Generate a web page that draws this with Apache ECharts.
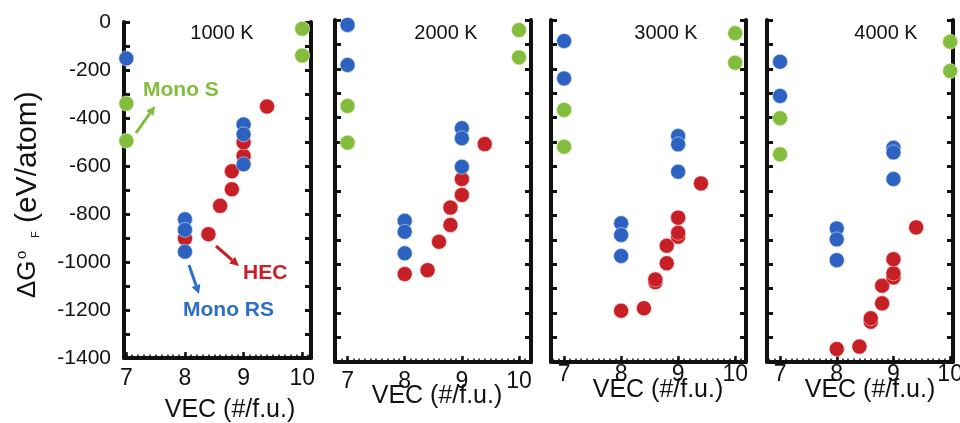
<!DOCTYPE html>
<html>
<head>
<meta charset="utf-8">
<script src="https://cdn.jsdelivr.net/npm/echarts@6/dist/echarts.min.js"></script>
<style>
  html, body { margin: 0; padding: 0; background: #ffffff; }
  #chart { width: 960px; height: 423px; }
</style>
</head>
<body>
<div id="chart"></div>
<script>
// Panel titles (temperature of each panel)
const temperatures = ['1000 K', '2000 K', '3000 K', '4000 K'];

// Tick values
const vecTicks = [7, 8, 9, 10];
const energyLabels = [0, -200, -400, -600, -800, -1000, -1200, -1400];

// [VEC, ΔG°F] pairs for each phase and temperature
const monoS1000 = [[7, -340], [7, -495], [10, -28], [10, -140]];
const monoRS1000 = [[7, -152], [8, -822], [8, -866], [8, -957], [9, -427], [9, -468], [9, -593]];
const hec1000 = [[8, -902], [8.4, -884], [8.6, -766], [8.8, -697], [8.8, -622], [9, -558], [9, -502], [9.4, -352]];

const monoS2000 = [[7, -352], [7, -502], [10, -41], [10, -153]];
const monoRS2000 = [[7, -20], [7, -184], [8, -822], [8, -867], [8, -955], [9, -443], [9, -484], [9, -601]];
const hec2000 = [[8, -1040], [8.4, -1024], [8.6, -908], [8.8, -839], [8.8, -768], [9, -716], [9, -651], [9.4, -508]];

const monoS3000 = [[7, -368], [7, -519], [10, -54], [10, -175]];
const monoRS3000 = [[7, -86], [7, -239], [8, -832], [8, -880], [8, -966], [9, -475], [9, -509], [9, -621]];
const hec3000 = [[8, -1190], [8.4, -1180], [8.6, -1073], [8.6, -1062], [8.8, -996], [8.8, -924], [9, -887], [9, -871], [9, -809], [9.4, -669]];

const monoS4000 = [[7, -402], [7, -550], [10, -89], [10, -209]];
const monoRS4000 = [[7, -171], [7, -311], [8, -853], [8, -898], [8, -983], [9, -523], [9, -542], [9, -651]];
const hec4000 = [[8, -1347], [8.4, -1337], [8.6, -1235], [8.6, -1221], [8.8, -1160], [8.8, -1088], [9, -1054], [9, -1037], [9, -979], [9.4, -849]];

const monoSByPanel = [monoS1000, monoS2000, monoS3000, monoS4000];
const monoRSByPanel = [monoRS1000, monoRS2000, monoRS3000, monoRS4000];
const hecByPanel = [hec1000, hec2000, hec3000, hec4000];

// Colours
const RED = '#c61f26';
const BLUE = '#2d62c0';
const GREEN = '#83bd3d';
const LABEL_BLUE = '#2b6fc6';
const INK = '#111111';
const FONT = '"Liberation Sans", Arial, Helvetica, sans-serif';

// Frame geometry of each panel (pixel box and VEC range shown)
const frames = [
  { left: 124, right: 311, top: 22, bottom: 358, xMin: 6.96, xMax: 10.15, labelMargin: 9, nameX: 230, nameY: 410, titleX: 222 },
  { left: 335, right: 531, top: 20, bottom: 362, xMin: 6.78, xMax: 10.21, labelMargin: 8, nameX: 437, nameY: 396, titleX: 446 },
  { left: 551, right: 746, top: 20, bottom: 362, xMin: 6.77, xMax: 10.19, labelMargin: 1, nameX: 658, nameY: 390, titleX: 666 },
  { left: 767, right: 953, top: 20, bottom: 362, xMin: 6.77, xMax: 10.05, labelMargin: 1, nameX: 870, nameY: 390, titleX: 886 }
];

// fine tick positions every 0.1 along the VEC axis
function minorTicks(lo, hi) {
  const out = [];
  for (let k = Math.ceil(lo * 10); k <= Math.floor(hi * 10); k++) out.push(k / 10);
  return out;
}

const grids = [], xAxes = [], yAxes = [], series = [], graphics = [];

frames.forEach((f, i) => {
  const h = f.bottom - f.top;
  grids.push({ left: f.left, top: f.top, width: f.right - f.left, height: h, containLabel: false, outerBoundsMode: 'none' });

  // main VEC axis: line, labels and integer ticks
  xAxes.push({
    type: 'value', gridIndex: i, position: 'bottom', min: f.xMin, max: f.xMax,
    axisLine: { show: true, onZero: false, lineStyle: { color: INK, width: 4 } },
    axisTick: { show: true, inside: true, length: 6, lineStyle: { color: INK, width: 2.5 }, customValues: vecTicks },
    axisLabel: { show: true, customValues: vecTicks, margin: f.labelMargin, fontSize: 23, color: INK, fontFamily: FONT, hideOverlap: false },
    splitLine: { show: false }
  });
  // fine ticks along the VEC axis (a second axis shifted down onto the bottom edge)
  xAxes.push({
    type: 'value', gridIndex: i, position: 'top', offset: -h, min: f.xMin, max: f.xMax,
    axisLine: { show: false },
    axisTick: { show: true, inside: false, length: 3.5, lineStyle: { color: INK, width: 1.5 }, customValues: minorTicks(f.xMin, f.xMax) },
    axisLabel: { show: false },
    splitLine: { show: false }
  });

  // left energy axis
  yAxes.push({
    type: 'value', gridIndex: i, position: 'left', min: -1400, max: 0, interval: 100,
    axisLine: { show: true, onZero: false, lineStyle: { color: INK, width: 4 } },
    axisTick: { show: true, inside: true, length: 6, lineStyle: { color: INK, width: 3 } },
    axisLabel: { show: i === 0, customValues: energyLabels, formatter: (v) => String(v), margin: 13, fontSize: 21, color: INK, fontFamily: FONT },
    splitLine: { show: false }
  });
  // right mirror axis
  yAxes.push({
    type: 'value', gridIndex: i, position: 'right', min: -1400, max: 0, interval: 100,
    axisLine: { show: true, onZero: false, lineStyle: { color: INK, width: 4 } },
    axisTick: { show: true, inside: true, length: 6, lineStyle: { color: INK, width: 3 } },
    axisLabel: { show: false },
    splitLine: { show: false }
  });

  const base = { type: 'scatter', xAxisIndex: i * 2, yAxisIndex: i * 2, symbol: 'circle', symbolSize: 15, clip: false, silent: true, animation: false };
  series.push(Object.assign({}, base, { name: 'HEC', data: hecByPanel[i], z: 3,
    itemStyle: { color: RED, opacity: 1, borderColor: 'rgba(255,210,210,0.55)', borderWidth: 1 } }));
  series.push(Object.assign({}, base, { name: 'Mono RS', data: monoRSByPanel[i], z: 4,
    itemStyle: { color: BLUE, opacity: 1, borderColor: 'rgba(210,225,255,0.6)', borderWidth: 1 } }));
  series.push(Object.assign({}, base, { name: 'Mono S', data: monoSByPanel[i], z: 5,
    itemStyle: { color: GREEN, opacity: 1, borderColor: 'rgba(235,245,200,0.6)', borderWidth: 1 } }));

  graphics.push({ type: 'text', x: f.titleX, y: 33, z: 10,
    style: { text: temperatures[i], font: '20px ' + FONT, fill: INK, align: 'center', verticalAlign: 'middle' } });
  graphics.push({ type: 'text', x: f.nameX, y: f.nameY, z: 10,
    style: { text: 'VEC (#/f.u.)', font: '25px ' + FONT, fill: INK, align: 'center', verticalAlign: 'middle' } });
});

// Energy axis title, written bottom-to-top
graphics.push({
  type: 'group', x: 28, y: 298, rotation: Math.PI / 2, z: 10,
  children: [
    { type: 'text', x: 0, y: 0, style: { text: 'ΔG', font: '26px ' + FONT, fill: INK, align: 'left', verticalAlign: 'middle' } },
    { type: 'text', x: 39, y: -6, style: { text: 'o', font: '15px ' + FONT, fill: INK, align: 'left', verticalAlign: 'middle' } },
    { type: 'text', x: 60, y: 8, style: { text: 'F', font: '11px ' + FONT, fill: INK, align: 'left', verticalAlign: 'middle' } },
    { type: 'text', x: 75, y: 0, style: { text: '(eV/atom)', font: '30px ' + FONT, fill: INK, align: 'left', verticalAlign: 'middle' } }
  ]
});

// Annotation arrows in the first panel
function arrow(x1, y1, x2, y2, color) {
  const dx = x2 - x1, dy = y2 - y1, len = Math.hypot(dx, dy);
  const ux = dx / len, uy = dy / len, head = 9, half = 4.5;
  const bx = x2 - ux * head, by = y2 - uy * head;
  return [
    { type: 'line', z: 10, shape: { x1: x1, y1: y1, x2: bx, y2: by }, style: { stroke: color, lineWidth: 3 } },
    { type: 'polygon', z: 10, shape: { points: [[x2, y2], [bx - uy * half, by + ux * half], [bx + uy * half, by - ux * half]] }, style: { fill: color } }
  ];
}
graphics.push(...arrow(136, 133, 155, 106, GREEN));
graphics.push(...arrow(216, 246, 239, 266, RED));
graphics.push(...arrow(189, 265, 199, 294, LABEL_BLUE));

graphics.push({ type: 'text', x: 143, y: 90, z: 10, style: { text: 'Mono S', font: 'bold 21px ' + FONT, fill: GREEN, align: 'left', verticalAlign: 'middle' } });
graphics.push({ type: 'text', x: 243, y: 273, z: 10, style: { text: 'HEC', font: 'bold 21px ' + FONT, fill: RED, align: 'left', verticalAlign: 'middle' } });
graphics.push({ type: 'text', x: 183, y: 310, z: 10, style: { text: 'Mono RS', font: 'bold 21px ' + FONT, fill: LABEL_BLUE, align: 'left', verticalAlign: 'middle' } });

const chart = echarts.init(document.getElementById('chart'), null, { renderer: 'canvas' });
chart.setOption({
  animation: false,
  backgroundColor: '#ffffff',
  grid: grids,
  xAxis: xAxes,
  yAxis: yAxes,
  series: series,
  graphic: graphics
});
</script>
</body>
</html>
